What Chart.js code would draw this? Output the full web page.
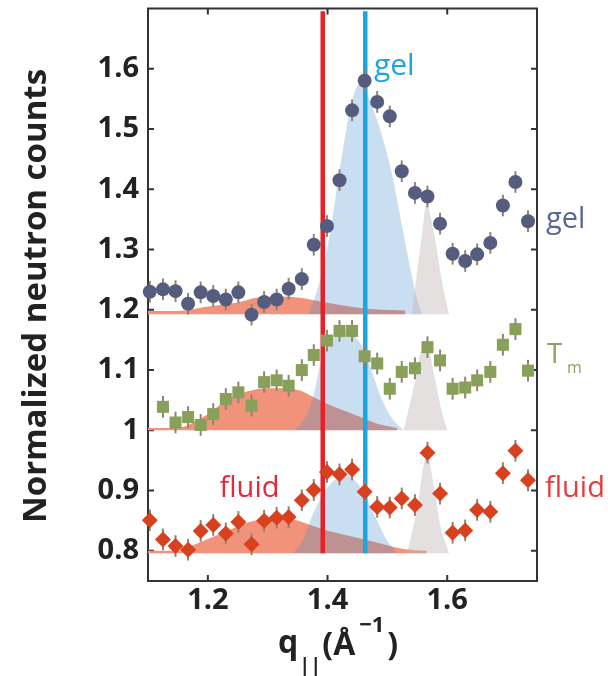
<!DOCTYPE html>
<html>
<head>
<meta charset="utf-8">
<script src="https://cdn.jsdelivr.net/npm/chart.js@4.4.0/dist/chart.umd.min.js"></script>
<style>
  html, body { margin: 0; padding: 0; background: #fff; }
</style>
</head>
<body>
<canvas id="neutronChart" width="608" height="676"></canvas>
<script>
// scan positions q|| (A^-1)
const q = [1.103, 1.125, 1.146, 1.167, 1.188, 1.209, 1.230, 1.251, 1.273, 1.294, 1.315,
           1.335, 1.357, 1.377, 1.399, 1.420, 1.441, 1.462, 1.483, 1.504, 1.524, 1.546,
           1.567, 1.588, 1.609, 1.630, 1.650, 1.672, 1.693, 1.714, 1.735];

// normalized counts for the three temperatures
const gelCounts = [1.230, 1.234, 1.231, 1.210, 1.229, 1.223, 1.217, 1.229, 1.192, 1.213, 1.217,
                   1.235, 1.251, 1.308, 1.339, 1.415, 1.531, 1.580, 1.545, 1.521, 1.430, 1.394,
                   1.388, 1.343, 1.293, 1.281, 1.292, 1.311, 1.373, 1.412, 1.347];
const tmCounts = [null, 1.039, 1.013, 1.022, 1.009, 1.027, 1.052, 1.063, 1.041, 1.080, 1.083,
                  1.074, 1.100, 1.125, 1.149, 1.165, 1.165, 1.123, 1.111, 1.069, 1.097, 1.103,
                  1.138, 1.116, 1.069, 1.071, 1.083, 1.097, 1.142, 1.168, 1.099];
const fluidCounts = [0.851, 0.819, 0.808, 0.802, 0.833, 0.843, 0.829, 0.848, 0.811, 0.850, 0.855,
                     0.856, 0.884, 0.901, 0.931, 0.927, 0.935, 0.898, 0.873, 0.872, 0.887, 0.876,
                     0.963, 0.895, 0.830, 0.834, 0.868, 0.865, 0.929, 0.966, 0.917];
const countErr = 0.018;

// fitted peaks under each curve
const gelBase = 1.1925, tmBase = 1.0, fluidBase = 0.796;

const gelOrangeQ = [1.100, 1.150, 1.197, 1.253, 1.281, 1.320, 1.354, 1.388, 1.421, 1.476, 1.530];
const gelOrangeY = [1.198, 1.198, 1.205, 1.213, 1.220, 1.222, 1.220, 1.214, 1.208, 1.201, 1.199];
const gelBlueQ = [1.368, 1.385, 1.404, 1.421, 1.441, 1.4545, 1.471, 1.505, 1.527, 1.550, 1.558];
const gelBlueY = [1.1925, 1.240, 1.326, 1.437, 1.547, 1.575, 1.547, 1.437, 1.326, 1.216, 1.1925];
const gelGrayQ = [1.541, 1.547, 1.558, 1.565, 1.578, 1.592, 1.603];
const gelGrayY = [1.1925, 1.243, 1.326, 1.376, 1.326, 1.243, 1.1925];

const tmOrangeQ = [1.100, 1.147, 1.197, 1.231, 1.264, 1.298, 1.332, 1.354, 1.371, 1.399, 1.427, 1.455, 1.483, 1.516];
const tmOrangeY = [1.004, 1.004, 1.025, 1.050, 1.064, 1.070, 1.070, 1.066, 1.058, 1.044, 1.033, 1.022, 1.011, 1.004];
const tmBlueQ = [1.345, 1.362, 1.376, 1.387, 1.404, 1.432, 1.455, 1.466, 1.477, 1.494, 1.510, 1.527];
const tmBlueY = [1.0, 1.020, 1.055, 1.105, 1.147, 1.163, 1.144, 1.122, 1.089, 1.044, 1.017, 1.0];
const tmGrayQ = [1.527, 1.544, 1.555, 1.566, 1.580, 1.589, 1.600];
const tmGrayY = [1.0, 1.072, 1.127, 1.140, 1.083, 1.039, 1.0];

const fluidOrangeQ = [1.100, 1.147, 1.175, 1.208, 1.242, 1.270, 1.309, 1.348, 1.371, 1.399, 1.432, 1.477, 1.522, 1.566];
const fluidOrangeY = [0.800, 0.800, 0.8095, 0.823, 0.837, 0.848, 0.854, 0.851, 0.843, 0.834, 0.826, 0.815, 0.804, 0.800];
const fluidBlueQ = [1.343, 1.360, 1.376, 1.399, 1.421, 1.429, 1.4545, 1.477, 1.499, 1.516];
const fluidBlueY = [0.796, 0.820, 0.862, 0.9035, 0.925, 0.927, 0.906, 0.862, 0.818, 0.796];
const fluidGrayQ = [1.533, 1.550, 1.561, 1.566, 1.578, 1.589, 1.603];
const fluidGrayY = [0.796, 0.873, 0.945, 0.962, 0.906, 0.840, 0.796];

// peak positions (vertical lines)
const fluidPeakQ = 1.392;
const gelPeakQ = 1.463;
const peakLineSpan = [0.796, 1.6955];

const xTicks = [1.2, 1.4, 1.6];
const xTickLabels = ['1.2', '1.4', '1.6'];
const yTicks = [0.8, 0.9, 1.0, 1.1, 1.2, 1.3, 1.4, 1.5, 1.6];
const yTickLabels = ['0.8', '0.9', '1', '1.1', '1.2', '1.3', '1.4', '1.5', '1.6'];

const ORANGE = '#f0937a';
const BLUE = 'rgba(75,145,205,0.3)';
const GRAY = 'rgba(190,180,180,0.42)';

function pts(xs, ys) {
    return xs.map((x, i) => ({ x: x, y: ys[i] }));
}

function peak(xs, ys, base, color, order) {
    return {
        data: pts(xs, ys),
        fill: { value: base },
        backgroundColor: color,
        borderColor: 'transparent',
        borderWidth: 0,
        pointRadius: 0,
        cubicInterpolationMode: 'monotone',
        order: order
    };
}

function markers(ys, style, radius, color) {
    return {
        data: pts(q, ys),
        showLine: false,
        pointStyle: style,
        pointRadius: radius,
        pointBackgroundColor: color,
        pointBorderWidth: 0,
        errs: countErr,
        clip: false,
        order: 0
    };
}

function vline(x, color) {
    return {
        data: [{ x: x, y: peakLineSpan[0] }, { x: x, y: peakLineSpan[1] }],
        borderColor: color,
        borderWidth: 4.5,
        pointRadius: 0,
        fill: false,
        order: 2
    };
}

const frameAndText = {
    id: 'frameAndText',
    beforeDatasetDraw(chart, args) {
        // error bars go under the markers
        const ds = chart.data.datasets[args.index];
        if (!ds.errs) return;
        const ctx = chart.ctx, xs = chart.scales.x, ys = chart.scales.y;
        ctx.save();
        ctx.strokeStyle = '#8c8670';
        ctx.lineWidth = 2;
        ds.data.forEach(p => {
            if (p.y == null) return;
            const px = xs.getPixelForValue(p.x);
            ctx.beginPath();
            ctx.moveTo(px, ys.getPixelForValue(p.y - ds.errs));
            ctx.lineTo(px, ys.getPixelForValue(p.y + ds.errs));
            ctx.stroke();
        });
        ctx.restore();
    },
    beforeDatasetsDraw(chart) {
        const ctx = chart.ctx, a = chart.chartArea;
        const xs = chart.scales.x, ys = chart.scales.y;
        ctx.save();
        ctx.strokeStyle = '#333';
        ctx.lineWidth = 2;
        ctx.strokeRect(a.left, a.top, a.right - a.left, a.bottom - a.top);
        ctx.beginPath();
        yTicks.forEach(v => {
            const py = ys.getPixelForValue(v);
            ctx.moveTo(a.left, py); ctx.lineTo(a.left + 6, py);
            ctx.moveTo(a.right, py); ctx.lineTo(a.right - 6, py);
        });
        xTicks.forEach(v => {
            const px = xs.getPixelForValue(v);
            ctx.moveTo(px, a.bottom); ctx.lineTo(px, a.bottom - 6);
            ctx.moveTo(px, a.top); ctx.lineTo(px, a.top + 6);
        });
        ctx.stroke();
        ctx.restore();
    },
    afterDraw(chart) {
        const ctx = chart.ctx;
        const xs = chart.scales.x, ys = chart.scales.y;
        ctx.save();
        ctx.textBaseline = 'alphabetic';

        // y axis title
        ctx.save();
        ctx.translate(46, 296);
        ctx.rotate(-Math.PI / 2);
        ctx.textAlign = 'center';
        ctx.fillStyle = '#222';
        ctx.font = 'bold 33px "Open Sans"';
        ctx.fillText('Normalized neutron counts', 0, 0);
        ctx.restore();

        // x axis title  q||(Å^-1)
        ctx.fillStyle = '#222';
        ctx.textAlign = 'left';
        let x = 278;
        ctx.font = 'bold 32px "Open Sans"';
        ctx.fillText('q', x, 653);
        x += ctx.measureText('q').width + 1;
        ctx.font = 'bold 20px "Open Sans"';
        ctx.fillText('||', x, 672);
        x += ctx.measureText('||').width + 1;
        ctx.font = 'bold 32px "Open Sans"';
        ctx.fillText('(Å', x, 655);
        x += ctx.measureText('(Å').width + 4;
        ctx.font = 'bold 22px "Open Sans"';
        ctx.fillText('\u22121', x, 632);
        x += ctx.measureText('\u22121').width + 3;
        ctx.font = 'bold 32px "Open Sans"';
        ctx.fillText(')', x, 655);

        // labels inside the plot
        ctx.font = '30px "Open Sans"';
        ctx.fillStyle = '#1ea5df';
        ctx.fillText('gel', xs.getPixelForValue(1.4775), ys.getPixelForValue(1.589));
        ctx.font = '29px "Open Sans"';
        ctx.fillStyle = '#e8283a';
        ctx.fillText('fluid', xs.getPixelForValue(1.2195), ys.getPixelForValue(0.889));

        // series names on the right
        ctx.font = '29px "Open Sans"';
        ctx.fillStyle = '#5a6796';
        ctx.fillText('gel', 546, 228);
        ctx.fillStyle = '#8fa060';
        ctx.font = '28px "Open Sans"';
        ctx.fillText('T', 547, 363);
        ctx.font = '16px "Open Sans"';
        ctx.fillText('m', 567, 373);
        ctx.font = '29px "Open Sans"';
        ctx.fillStyle = '#e63c3c';
        ctx.fillText('fluid', 545, 497);
        ctx.restore();
    }
};

const tickFont = { family: 'Open Sans', weight: 'bold', size: 29 };

new Chart(document.getElementById('neutronChart'), {
    type: 'line',
    data: {
        datasets: [
            markers(gelCounts, 'circle', 7, '#565c7e'),
            markers(tmCounts, 'rect', 8.5, '#88a05a'),
            markers(fluidCounts, 'rectRot', 8, '#d8411f'),
            vline(fluidPeakQ, '#e8202a'),
            vline(gelPeakQ, '#1ba6df'),
            peak(gelGrayQ, gelGrayY, gelBase, GRAY, 3),
            peak(tmGrayQ, tmGrayY, tmBase, GRAY, 3),
            peak(fluidGrayQ, fluidGrayY, fluidBase, GRAY, 3),
            peak(gelBlueQ, gelBlueY, gelBase, BLUE, 4),
            peak(tmBlueQ, tmBlueY, tmBase, BLUE, 4),
            peak(fluidBlueQ, fluidBlueY, fluidBase, BLUE, 4),
            peak(gelOrangeQ, gelOrangeY, gelBase, ORANGE, 5),
            peak(tmOrangeQ, tmOrangeY, tmBase, ORANGE, 5),
            peak(fluidOrangeQ, fluidOrangeY, fluidBase, ORANGE, 5)
        ]
    },
    options: {
        responsive: false,
        animation: false,
        layout: { padding: { top: 7, right: 71, left: 0, bottom: 0 } },
        plugins: { legend: { display: false }, tooltip: { enabled: false } },
        scales: {
            x: {
                type: 'linear',
                min: 1.1,
                max: 1.75,
                grid: { display: false, drawTicks: false },
                border: { display: false },
                afterBuildTicks: s => { s.ticks = xTicks.map(v => ({ value: v })); },
                afterFit: s => { s.height = 95; s.paddingLeft = 0; s.paddingRight = 0; },
                ticks: {
                    padding: 2,
                    color: '#222',
                    font: tickFont,
                    autoSkip: false,
                    maxRotation: 0,
                    callback: v => xTickLabels[xTicks.indexOf(v)]
                }
            },
            y: {
                type: 'linear',
                min: 0.75,
                max: 1.70,
                grid: { display: false, drawTicks: false },
                border: { display: false },
                afterBuildTicks: s => { s.ticks = yTicks.map(v => ({ value: v })); },
                afterFit: s => { s.width = 148; s.paddingTop = 0; s.paddingBottom = 0; },
                ticks: {
                    padding: 9,
                    color: '#222',
                    font: tickFont,
                    autoSkip: false,
                    callback: v => yTickLabels[yTicks.indexOf(v)]
                }
            }
        }
    },
    plugins: [frameAndText]
});
</script>
</body>
</html>
